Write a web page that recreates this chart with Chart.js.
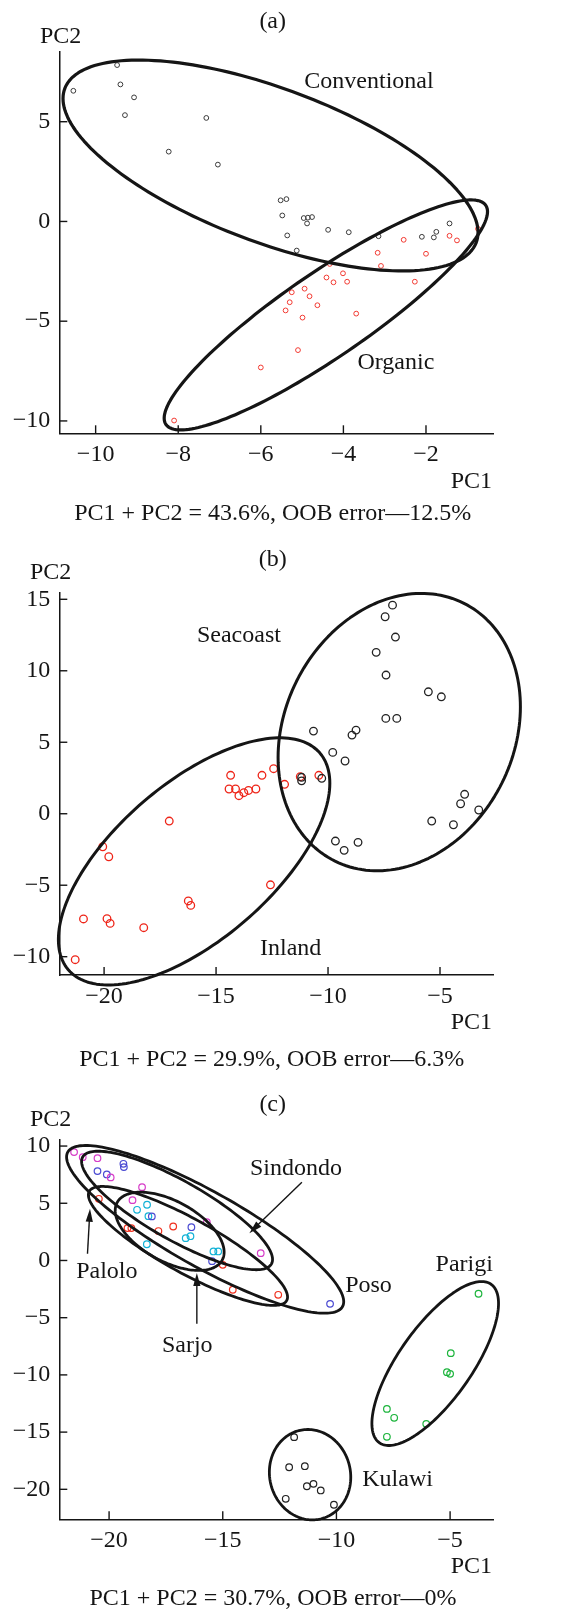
<!DOCTYPE html>
<html>
<head>
<meta charset="utf-8">
<script src="https://cdn.jsdelivr.net/npm/chart.js@4.4.1/dist/chart.umd.min.js"></script>
<style>
  html, body { margin: 0; padding: 0; background: #fff; }
  body { width: 585px; height: 1611px; position: relative; overflow: hidden; }
  canvas { position: absolute; left: 0; }
</style>
</head>
<body>
<canvas id="chartA" width="585" height="530" style="top:0px"></canvas>
<canvas id="chartB" width="585" height="550" style="top:530px"></canvas>
<canvas id="chartC" width="585" height="531" style="top:1080px"></canvas>
<script>
// ---- panel (a) ----
const aTicksX = [-10, -8, -6, -4, -2];
const aTicksY = [-10, -5, 0, 5];
const conventionalX = [-10.54, -9.48, -9.40, -9.07, -9.29, -7.32, -8.23, -7.04, -5.52, -5.38, -5.48, -4.96, -4.86, -4.76, -4.88, -5.36, -4.37, -3.87, -5.13, -3.15, -2.10, -1.81, -1.75, -1.43];
const conventionalY = [6.55, 7.84, 6.87, 6.22, 5.33, 5.19, 3.50, 2.85, 1.06, 1.12, 0.30, 0.17, 0.19, 0.22, -0.10, -0.70, -0.42, -0.54, -1.46, -0.74, -0.77, -0.80, -0.52, -0.10];
const organicX = [-2.54, -1.43, -1.25, -0.74, -3.17, -2.00, -3.09, -4.33, -4.01, -4.41, -4.24, -3.91, -2.27, -4.94, -5.25, -4.82, -5.30, -4.63, -5.40, -3.69, -4.99, -5.10, -6.00, -8.10];
const organicY = [-0.92, -0.72, -0.95, -0.37, -1.57, -1.62, -2.23, -2.13, -2.60, -2.81, -3.05, -3.02, -3.02, -3.37, -3.55, -3.75, -4.05, -4.20, -4.46, -4.62, -4.82, -6.45, -7.32, -9.98];
// ellipse: [xMin, xMax, yMin, yMax, y at xMax]
const conventionalEllipse = [-10.79, -0.74, -2.48, 8.09, -0.55];
const organicEllipse = [-8.34, -0.51, -10.45, 1.08, 0.49];
const aGroupNames = ["Conventional", "Organic"];
const aGroupLabelX = [-3.38, -2.73];
const aGroupLabelY = [7.02, -7.06];

// ---- panel (b) ----
const bTicksX = [-20, -15, -10, -5];
const bTicksY = [-10, -5, 0, 5, 10, 15];
const seacoastX = [-7.12, -7.45, -6.99, -7.85, -7.41, -5.52, -4.94, -7.42, -6.93, -10.65, -8.93, -8.75, -9.79, -9.24, -11.18, -11.18, -10.28, -3.90, -4.08, -3.27, -5.37, -4.40, -9.67, -9.28, -8.66];
const seacoastY = [14.59, 13.78, 12.36, 11.29, 9.70, 8.53, 8.18, 6.67, 6.67, 5.78, 5.50, 5.85, 4.29, 3.69, 2.55, 2.30, 2.48, 1.36, 0.70, 0.26, -0.51, -0.77, -1.91, -2.56, -2.00];
const inlandX = [-14.35, -12.95, -12.43, -11.24, -10.41, -11.94, -14.42, -14.13, -13.98, -13.76, -13.55, -13.22, -17.09, -20.06, -19.79, -12.57, -16.24, -16.13, -20.92, -19.87, -19.73, -18.23, -21.29];
const inlandY = [2.69, 2.69, 3.15, 2.59, 2.69, 2.06, 1.73, 1.73, 1.26, 1.47, 1.63, 1.73, -0.51, -2.31, -3.01, -4.97, -6.10, -6.41, -7.36, -7.34, -7.67, -7.97, -10.21];
const seacoastEllipse = [-12.23, -1.41, -3.99, 15.41, 7.48];
const inlandEllipse = [-22.04, -9.92, -11.98, 5.31, 2.13];
const bGroupNames = ["Seacoast", "Inland"];
const bGroupLabelX = [-13.98, -11.67];
const bGroupLabelY = [12.43, -9.41];

// ---- panel (c) ----
const cTicksX = [-20, -15, -10, -5];
const cTicksY = [-20, -15, -10, -5, 0, 5, 10];
const sindondoX = [-21.54, -21.16, -20.51, -19.93, -18.55, -18.97, -15.70, -13.33];
const sindondoY = [9.47, 9.03, 8.94, 7.26, 6.41, 5.27, 3.35, 0.64];
const posoX = [-20.51, -20.10, -19.37, -19.35, -18.12, -16.38, -15.47, -10.28];
const posoY = [7.81, 7.52, 8.45, 8.16, 3.85, 2.91, -0.06, -3.79];
const sarjoX = [-18.77, -18.33, -18.27, -18.34, -16.63, -16.42, -15.41, -15.20];
const sarjoY = [4.43, 4.87, 3.87, 1.42, 1.95, 2.12, 0.79, 0.79];
const paloloX = [-20.45, -19.19, -19.02, -17.83, -17.18, -15.00, -14.56, -12.56];
const paloloY = [5.39, 2.83, 2.83, 2.57, 2.97, -0.38, -2.56, -3.00];
const parigiX = [-3.75, -4.97, -5.14, -5.00, -7.78, -7.46, -6.05, -7.78];
const parigiY = [-2.91, -8.10, -9.76, -9.91, -12.97, -13.75, -14.28, -15.41];
const kulawiX = [-11.86, -12.08, -11.39, -11.30, -11.01, -10.69, -12.23, -10.11];
const kulawiY = [-15.44, -18.07, -17.98, -19.73, -19.52, -20.10, -20.83, -21.35];
const posoEllipse = [-21.87, -9.68, -4.61, 10.05, -3.60];
const sindondoEllipse = [-21.21, -12.81, -0.81, 9.55, 0.09];
const paloloEllipse = [-20.91, -12.15, -3.93, 6.47, -3.19];
const sarjoEllipse = [-19.73, -14.94, -0.87, 5.97, 0.73];
const parigiEllipse = [-8.44, -2.87, -16.17, -1.84, -3.76];
const kulawiEllipse = [-12.95, -9.37, -22.67, -14.77, -18.94];
const cGroupNames = ["Sindondo", "Palolo", "Poso", "Parigi", "Sarjo", "Kulawi"];
const cGroupLabelX = [-11.78, -20.10, -8.59, -4.38, -16.56, -7.31];
const cGroupLabelY = [7.98, -1.02, -2.18, -0.41, -7.43, -19.18];
// arrows: [fromX, fromY, toX, toY]
const cArrows = [[-11.52, 6.84, -13.83, 2.39], [-20.95, 0.59, -20.84, 4.52], [-16.14, -5.53, -16.14, -1.10]];

const FONT = '24px "Liberation Serif", "Times New Roman", serif';
const INK = '#151515';

const zip = (xs, ys) => xs.map((x, i) => ({ x: x, y: ys[i] }));
const fmt = v => (v < 0 ? '\u2212' + Math.abs(v) : String(v));

function strokeEllipse(ctx, sx, sy, e) {
    const [xMin, xMax, yMin, yMax, yRight] = e;
    const cx = (xMin + xMax) / 2, cy = (yMin + yMax) / 2;
    const w = (xMax - xMin) / 2, h = (yMax - yMin) / 2;
    const k = yRight - cy, m = Math.sqrt(Math.max(h * h - k * k, 0));
    ctx.beginPath();
    for (let i = 0; i <= 180; i++) {
        const t = i / 180 * Math.PI * 2;
        const px = sx.getPixelForValue(cx + w * Math.cos(t));
        const py = sy.getPixelForValue(cy + k * Math.cos(t) + m * Math.sin(t));
        if (i === 0) ctx.moveTo(px, py); else ctx.lineTo(px, py);
    }
    ctx.closePath();
    ctx.stroke();
}

function drawArrow(ctx, sx, sy, a) {
    const x0 = sx.getPixelForValue(a[0]), y0 = sy.getPixelForValue(a[1]);
    const x1 = sx.getPixelForValue(a[2]), y1 = sy.getPixelForValue(a[3]);
    const ang = Math.atan2(y1 - y0, x1 - x0), c = Math.cos(ang), s = Math.sin(ang);
    ctx.lineWidth = 1.4;
    ctx.beginPath();
    ctx.moveTo(x0, y0);
    ctx.lineTo(x1 - 8 * c, y1 - 8 * s);
    ctx.stroke();
    ctx.beginPath();
    ctx.moveTo(x1, y1);
    ctx.lineTo(x1 - 13 * c + 3.6 * s, y1 - 13 * s - 3.6 * c);
    ctx.lineTo(x1 - 13 * c - 3.6 * s, y1 - 13 * s + 3.6 * c);
    ctx.closePath();
    ctx.fill();
}

function decor(p) {
    return {
        id: 'decor',
        afterDatasetsDraw(chart) {
            const ctx = chart.ctx, sx = chart.scales.x, sy = chart.scales.y, area = chart.chartArea;
            ctx.save();
            ctx.strokeStyle = INK;
            ctx.fillStyle = INK;
            // inward tick marks
            ctx.lineWidth = 1.4;
            sx.ticks.forEach(t => {
                const x = sx.getPixelForValue(t.value);
                ctx.beginPath(); ctx.moveTo(x, area.bottom); ctx.lineTo(x, area.bottom - 8); ctx.stroke();
            });
            sy.ticks.forEach(t => {
                const y = sy.getPixelForValue(t.value);
                ctx.beginPath(); ctx.moveTo(area.left, y); ctx.lineTo(area.left + 8, y); ctx.stroke();
            });
            // group ellipses
            ctx.lineWidth = p.ellipseWidth;
            ctx.lineJoin = 'round';
            p.ellipses.forEach(e => strokeEllipse(ctx, sx, sy, e));
            (p.arrows || []).forEach(a => drawArrow(ctx, sx, sy, a));
            // texts
            ctx.font = FONT;
            ctx.textBaseline = 'middle';
            ctx.textAlign = 'center';
            p.names.forEach((s, i) => ctx.fillText(s, sx.getPixelForValue(p.labelX[i]), sy.getPixelForValue(p.labelY[i])));
            ctx.fillText(p.tag, p.tagX, p.tagY);
            ctx.fillText(p.caption, p.capX, p.capY);
            ctx.textAlign = 'left';
            ctx.fillText('PC2', p.pc2X, p.pc2Y);
            ctx.textAlign = 'right';
            ctx.fillText('PC1', 492, p.pc1Y);
            ctx.restore();
        }
    };
}

function axis(min, max, ticks, horizontal) {
    return {
        type: 'linear',
        min: min,
        max: max,
        afterBuildTicks: s => { s.ticks = ticks.map(v => ({ value: v })); },
        afterFit: s => { if (horizontal) s.height = 40; else s.width = 50; },
        grid: { display: false, drawTicks: false },
        border: { display: true, color: INK, width: 1.5 },
        ticks: {
            padding: horizontal ? 7 : 9,
            color: INK,
            font: { family: '"Liberation Serif", "Times New Roman", serif', size: 24 },
            callback: fmt,
            maxRotation: 0,
            autoSkip: false
        }
    };
}

function group(xs, ys, color, radius, width) {
    return {
        data: zip(xs, ys),
        pointRadius: radius,
        pointHoverRadius: radius,
        pointBorderWidth: width,
        pointBorderColor: color,
        pointBackgroundColor: 'rgba(0,0,0,0)',
        clip: false
    };
}

function makePanel(id, datasets, xr, yr, padTop, padBottom, p) {
    return new Chart(document.getElementById(id), {
        type: 'scatter',
        data: { datasets: datasets },
        options: {
            responsive: false,
            animation: false,
            devicePixelRatio: 1,
            layout: { padding: { left: 9.3, right: 91.7, top: padTop, bottom: padBottom } },
            scales: {
                x: axis(xr[0], xr[1], xr[2], true),
                y: axis(yr[0], yr[1], yr[2], false)
            },
            plugins: { legend: { display: false }, tooltip: { enabled: false } }
        },
        plugins: [decor(p)]
    });
}

makePanel('chartA', [
    group(conventionalX, conventionalY, '#3a3a3a', 2.4, 1),
    group(organicX, organicY, '#f23a32', 2.4, 1)
], [-10.88, -0.37, aTicksX], [-10.62, 8.51, aTicksY], 51.7, 56.7, {
    ellipses: [conventionalEllipse, organicEllipse], ellipseWidth: 3.2,
    names: aGroupNames, labelX: aGroupLabelX, labelY: aGroupLabelY,
    tag: '(a)', tagX: 272.7, tagY: 22, pc2X: 40, pc2Y: 37, pc1Y: 481.7,
    caption: 'PC1 + PC2 = 43.6%, OOB error\u201412.5%', capX: 272.7, capY: 514
});

makePanel('chartB', [
    group(seacoastX, seacoastY, '#222222', 3.8, 1.3),
    group(inlandX, inlandY, '#ee2418', 3.8, 1.3)
], [-22.0, -2.62, bTicksX], [-11.28, 15.44, bTicksY], 63, 65, {
    ellipses: [seacoastEllipse, inlandEllipse], ellipseWidth: 3,
    names: bGroupNames, labelX: bGroupLabelX, labelY: bGroupLabelY,
    tag: '(b)', tagX: 272.7, tagY: 30, pc2X: 30, pc2Y: 43, pc1Y: 493,
    caption: 'PC1 + PC2 = 29.9%, OOB error\u20146.3%', capX: 271.7, capY: 530
});

makePanel('chartC', [
    group(sindondoX, sindondoY, '#d63cc8', 3.3, 1.2),
    group(posoX, posoY, '#4a4ad2', 3.3, 1.2),
    group(sarjoX, sarjoY, '#12b2d6', 3.3, 1.2),
    group(paloloX, paloloY, '#f0301e', 3.3, 1.2),
    group(parigiX, parigiY, '#1cb43c', 3.3, 1.2),
    group(kulawiX, kulawiY, '#222222', 3.3, 1.2)
], [-22.19, -3.10, cTicksX], [-22.62, 10.59, cTicksY], 59.3, 51.7, {
    ellipses: [posoEllipse, sindondoEllipse, paloloEllipse, sarjoEllipse, parigiEllipse, kulawiEllipse], ellipseWidth: 2.8,
    arrows: cArrows,
    names: cGroupNames, labelX: cGroupLabelX, labelY: cGroupLabelY,
    tag: '(c)', tagX: 272.7, tagY: 25, pc2X: 30, pc2Y: 40, pc1Y: 486.7,
    caption: 'PC1 + PC2 = 30.7%, OOB error\u20140%', capX: 273, capY: 518.3
});
</script>
</body>
</html>
